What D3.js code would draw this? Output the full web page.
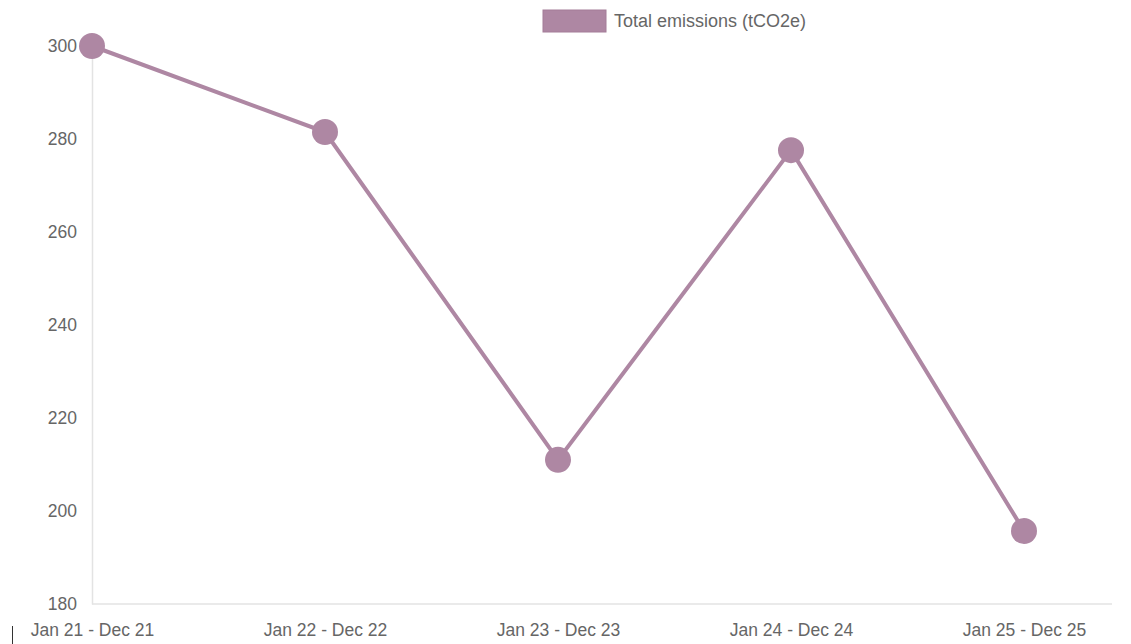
<!DOCTYPE html>
<html>
<head>
<meta charset="utf-8">
<script src="https://cdn.jsdelivr.net/npm/d3@7"></script>
<style>
  body { margin: 0; background: #fff; }
  svg text { font-family: "Liberation Sans", Arial, sans-serif; fill: #666; }
</style>
</head>
<body>
<div id="chart"></div>
<script>
var periods = ["Jan 21 - Dec 21", "Jan 22 - Dec 22", "Jan 23 - Dec 23", "Jan 24 - Dec 24", "Jan 25 - Dec 25"];
var emissions = [300, 281.5, 211, 277.6, 195.7];
var yTicks = [180, 200, 220, 240, 260, 280, 300];
var seriesName = "Total emissions (tCO2e)";

var width = 1131, height = 644;
var color = "#ae87a3";

var svg = d3.select("#chart").append("svg")
  .attr("width", width)
  .attr("height", height);

var x = d3.scalePoint()
  .domain(periods)
  .range([92, 1024]);

var y = d3.scaleLinear()
  .domain([180, 300])
  .range([604, 46]);

// y axis: just the labels + a light line
var yAxis = d3.axisLeft(y).tickValues(yTicks).tickSize(0).tickPadding(15);
var gy = svg.append("g").attr("transform", "translate(92,0)").call(yAxis);
gy.select(".domain").attr("stroke", "#e3e3e3").attr("stroke-width", 1.5);
gy.selectAll("text").style("font-size", "17.5px").attr("fill", "#666");

// x axis
var xAxis = d3.axisBottom(x).tickSize(0).tickPadding(20);
var gx = svg.append("g").attr("transform", "translate(0,604)").call(xAxis);
gx.select(".domain").remove();
gx.selectAll("text").style("font-size", "17.5px").attr("fill", "#666");
svg.append("line")
  .attr("x1", 92).attr("x2", 1112)
  .attr("y1", 604).attr("y2", 604)
  .attr("stroke", "#e3e3e3").attr("stroke-width", 1.5);

// little mark bottom-left
svg.append("line")
  .attr("x1", 12.5).attr("x2", 12.5)
  .attr("y1", 626).attr("y2", 644)
  .attr("stroke", "#333").attr("stroke-width", 1);

// the line
var line = d3.line()
  .x(function(d, i){ return x(periods[i]); })
  .y(function(d){ return y(d); });

svg.append("path")
  .datum(emissions)
  .attr("d", line)
  .attr("fill", "none")
  .attr("stroke", color)
  .attr("stroke-width", 4);

svg.selectAll(".dot")
  .data(emissions)
  .enter()
  .append("circle")
  .attr("class", "dot")
  .attr("cx", function(d, i){ return x(periods[i]); })
  .attr("cy", function(d){ return y(d); })
  .attr("r", 13)
  .attr("fill", color);

// legend
var legend = svg.append("g").attr("transform", "translate(543,10)");
legend.append("rect")
  .attr("width", 63).attr("height", 22)
  .attr("fill", color)
  .attr("stroke", "#a47c98").attr("stroke-width", 1);
legend.append("text")
  .attr("x", 71).attr("y", 17)
  .style("font-size", "18px")
  .text(seriesName);
</script>
</body>
</html>
